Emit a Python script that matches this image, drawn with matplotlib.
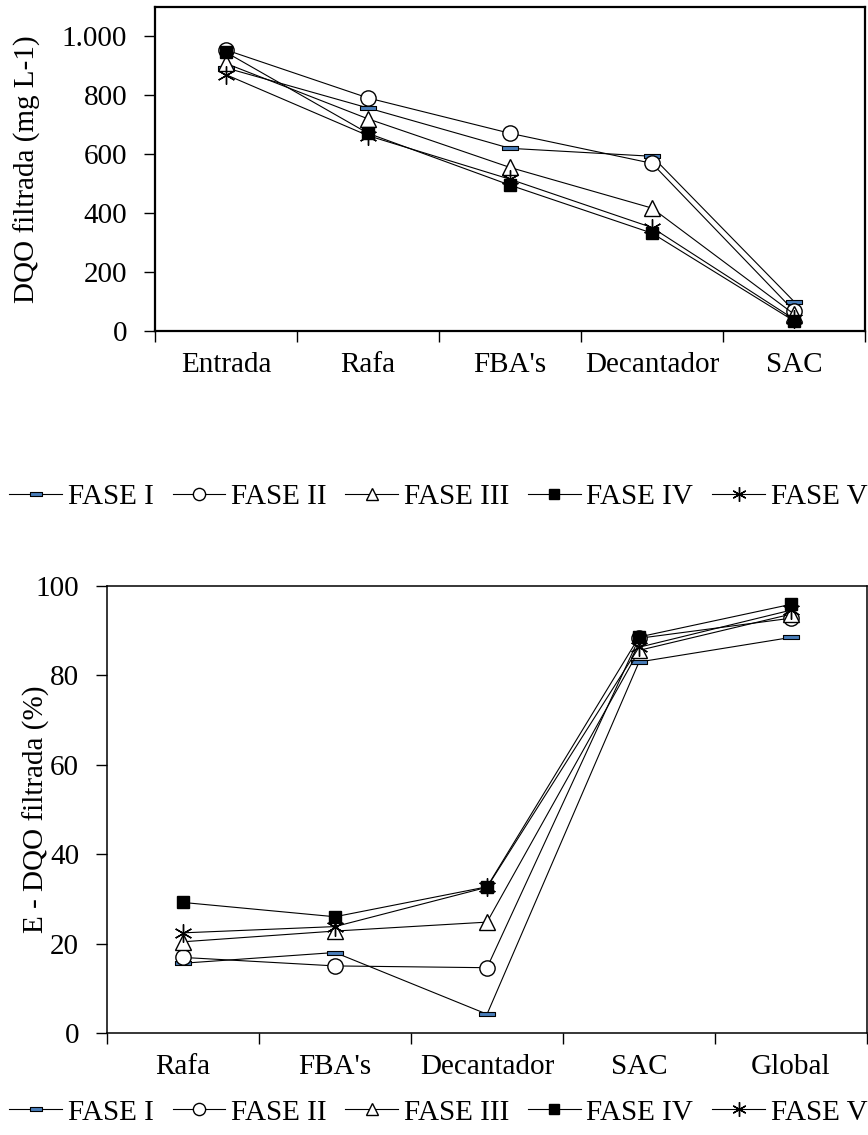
import matplotlib
matplotlib.use('Agg')
import matplotlib.pyplot as plt
from matplotlib.ticker import FixedLocator, FuncFormatter

plt.rcParams['font.family'] = ['Liberation Serif', 'DejaVu Serif']
plt.rcParams['font.size'] = 21

# DQO filtrada por ponto de coleta (mg L-1)
etapas_dqo = ['Entrada', 'Rafa', "FBA's", 'Decantador', 'SAC']
dqo_fase1 = [893, 757, 620, 593, 100]
dqo_fase2 = [954, 791, 671, 569, 68]
dqo_fase3 = [908, 720, 555, 417, 57]
dqo_fase4 = [946, 671, 495, 332, 34]
dqo_fase5 = [870, 663, 515, 351, 40]

# Eficiencia de remocao de DQO filtrada (%)
etapas_ef = ['Rafa', "FBA's", 'Decantador', 'SAC', 'Global']
ef_fase1 = [15.6, 18.0, 4.2, 83.0, 88.5]
ef_fase2 = [16.9, 15.0, 14.6, 88.3, 92.8]
ef_fase3 = [20.4, 22.8, 24.8, 85.6, 93.7]
ef_fase4 = [29.2, 26.0, 32.7, 88.6, 95.9]
ef_fase5 = [22.4, 23.8, 32.6, 86.3, 94.6]

fases = ['FASE I', 'FASE II', 'FASE III', 'FASE IV', 'FASE V']

dash = [(-1, -0.3), (1, -0.3), (1, 0.3), (-1, 0.3), (-1, -0.3)]
estilos = [
    dict(marker=dash, markersize=11, markerfacecolor='#4a7ebb', markeredgecolor='black', markeredgewidth=0.8),
    dict(marker='o', markersize=11, markerfacecolor='white', markeredgecolor='black', markeredgewidth=1.0),
    dict(marker='^', markersize=11, markerfacecolor='white', markeredgecolor='black', markeredgewidth=1.0),
    dict(marker='s', markersize=9, markerfacecolor='black', markeredgecolor='black'),
    dict(marker=(6, 2, 0), markersize=13, markerfacecolor='none', markeredgecolor='black', markeredgewidth=1.0),
]


def plot_painel(ax, etapas, series, ymax, ystep, spine_lw):
    x = range(len(etapas))
    for serie, nome, st in zip(series, fases, estilos):
        ax.plot(x, serie, color='black', linewidth=0.8, label=nome, **st)
    ax.set_xlim(-0.5, len(etapas) - 0.5)
    ax.set_ylim(0, ymax)
    ax.set_yticks(range(0, 101 if ymax == 100 else 1001, ystep))
    # ticks nas divisas, rotulos no centro das categorias
    ax.xaxis.set_major_locator(FixedLocator([i - 0.5 for i in range(len(etapas) + 1)]))
    ax.xaxis.set_major_formatter(FuncFormatter(lambda v, p: ''))
    ax.xaxis.set_minor_locator(FixedLocator(list(x)))
    ax.xaxis.set_minor_formatter(FuncFormatter(lambda v, p: etapas[int(round(v))]))
    ax.tick_params(axis='x', which='major', direction='out', length=8, width=1)
    ax.tick_params(axis='x', which='minor', length=0, pad=15)
    ax.tick_params(axis='y', direction='out', length=8, width=1, pad=12)
    for s in ax.spines.values():
        s.set_linewidth(spine_lw)


fig = plt.figure(figsize=(8.68, 11.35), dpi=100)

ax1 = fig.add_axes([0.1786, 0.7084, 0.818, 0.2855])
plot_painel(ax1, etapas_dqo, [dqo_fase1, dqo_fase2, dqo_fase3, dqo_fase4, dqo_fase5],
            1100, 200, 1.6)
ax1.yaxis.set_major_formatter(FuncFormatter(lambda v, p: f'{int(v):,}'.replace(',', '.')))
ax1.set_ylabel('DQO filtrada (mg L-1)', labelpad=15)

ax2 = fig.add_axes([0.1233, 0.0899, 0.8756, 0.3938])
plot_painel(ax2, etapas_ef, [ef_fase1, ef_fase2, ef_fase3, ef_fase4, ef_fase5],
            100, 20, 1.1)
ax2.set_ylabel('E - DQO filtrada (%)', labelpad=-10)

leg_kw = dict(loc='center', ncol=5, frameon=False, handlelength=1.8, markerscale=0.8,
              handletextpad=0.2, columnspacing=0.65, borderaxespad=0, fontsize=21)
h, l = ax1.get_legend_handles_labels()
fig.legend(h, l, bbox_to_anchor=(0.505, 0.562), **leg_kw)
fig.legend(h, l, bbox_to_anchor=(0.505, 0.020), **leg_kw)

fig.savefig('out.png', dpi=100)
